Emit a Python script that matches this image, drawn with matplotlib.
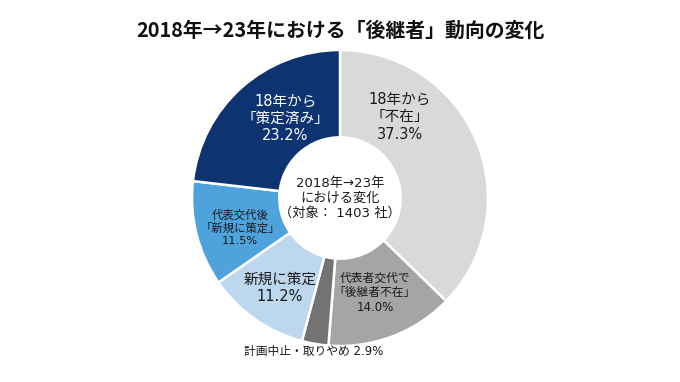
import matplotlib.pyplot as plt
import matplotlib

matplotlib.rcParams["font.family"] = ["DejaVu Sans", "Noto Sans CJK JP"]

# data (clockwise from 12 o'clock)
labels = ["18年から\n「不在」\n37.3%", "代表者交代で\n「後継者不在」\n14.0%", "計画中止・取りやめ 2.9%",
          "新規に策定\n11.2%", "代表交代後\n「新規に策定」\n11.5%", "18年から\n「策定済み」\n23.2%"]
values = [37.3, 14.0, 2.9, 11.2, 11.5, 23.2]
colors = ["#d9d9d9", "#a5a5a5", "#737373", "#bdd7ee", "#4fa3dd", "#0d3370"]
text_colors = ["#1a1a1a", "#1a1a1a", "#1a1a1a", "#1a1a1a", "#1a1a1a", "white"]
font_sizes = [10.5, 8.5, 8.5, 10.5, 8.2, 10.5]
# label centres in axis units (radius = 1)
label_xy = [(0.405, 0.55), (0.236, -0.64), (-0.176, -1.04), (-0.405, -0.61), (-0.676, -0.20), (-0.37, 0.54)]
center_text = "2018年→23年\nにおける変化\n（対象： 1403 社）"
title = "2018年→23年における「後継者」動向の変化"

fig = plt.figure(figsize=(6.8, 3.82), dpi=100)
fig.text(0.5, 0.921, title, ha="center", va="center", fontsize=14.3, fontweight="bold", color="#111111",
         family=["Noto Sans CJK JP", "DejaVu Sans"])

r_px = 148
ax = fig.add_axes([(340 - r_px) / 680, (184 - r_px) / 382, 2 * r_px / 680, 2 * r_px / 382])
ax.pie(values, colors=colors, startangle=90, counterclock=False, radius=1,
       wedgeprops=dict(width=0.59, edgecolor="white", linewidth=1.8))
ax.set_xlim(-1, 1)
ax.set_ylim(-1, 1)
ax.set_aspect("equal")
ax.axis("off")

for (x, y), lab, tc, fs in zip(label_xy, labels, text_colors, font_sizes):
    ax.text(x, y, lab, ha="center", va="center", color=tc, fontsize=fs, linespacing=1.2, clip_on=False)

ax.text(0, 0, center_text, ha="center", va="center", fontsize=9.5, color="#1a1a1a", linespacing=1.2)

fig.savefig("out.png", dpi=100)
